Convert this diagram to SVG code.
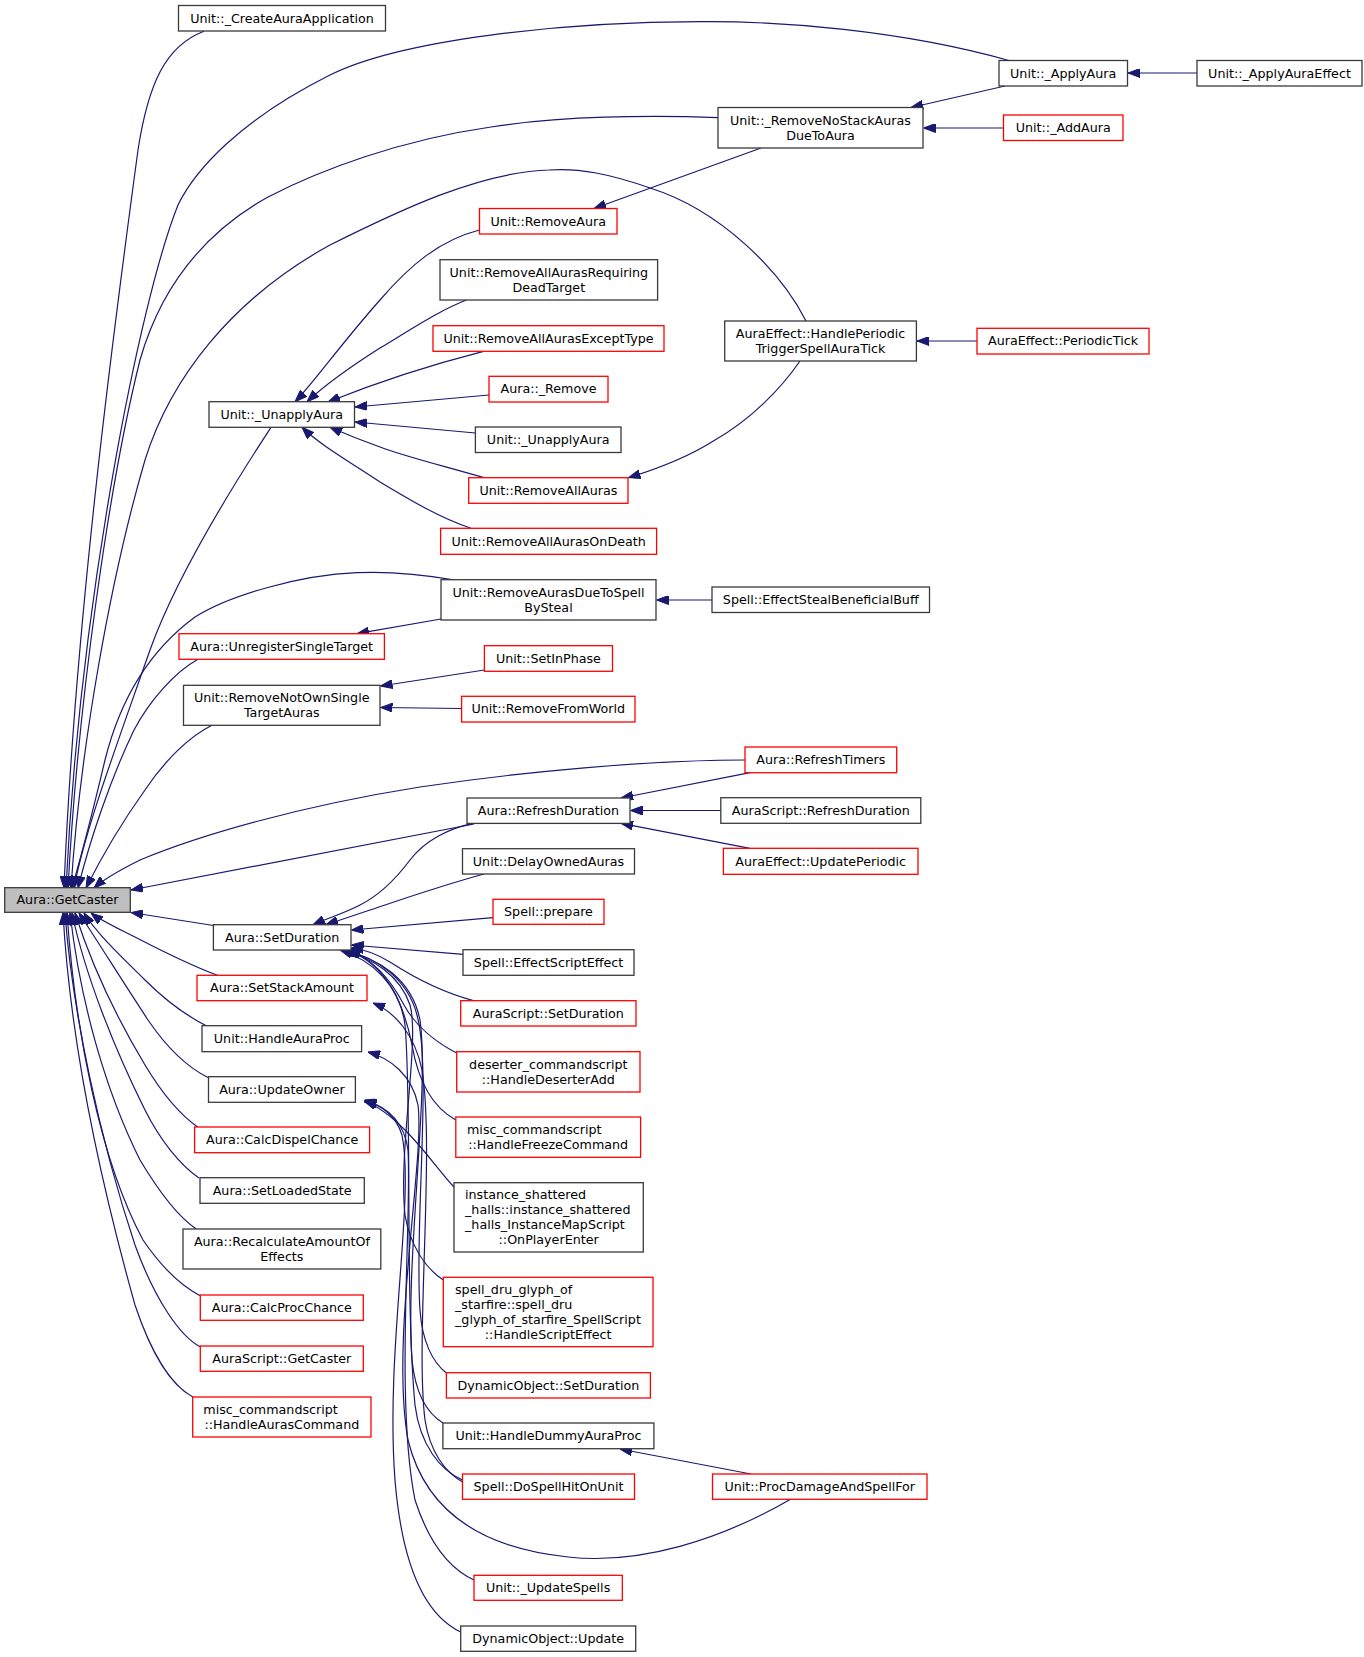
<svg xmlns="http://www.w3.org/2000/svg" width="1364" height="1657" viewBox="0 0 1364 1657">
<defs>
<style>
.b{fill:#fff;stroke:#3a3a3a;stroke-width:1.3}
.r{fill:#fff;stroke:#ff0000;stroke-width:1.3}
.g{fill:#bfbfbf;stroke:#3a3a3a;stroke-width:1.3}
text{font-family:"DejaVu Sans","Liberation Sans",sans-serif;font-size:12.7px;fill:#000}
.m{text-anchor:middle}
.s{text-anchor:start}
.e path{fill:none;stroke:#191970;stroke-width:1.2;marker-end:url(#ah)}
</style>
<marker id="ah" viewBox="0 0 12 9" refX="12" refY="4.5" markerWidth="12" markerHeight="9" markerUnits="userSpaceOnUse" orient="auto">
<path d="M0,0 L12,4.5 L0,9 z" fill="#191970" stroke="#191970" stroke-width="1"/>
</marker>
</defs>
<rect width="1364" height="1657" fill="#fff"/>
<g id="edges" class="e">
<path d="M204,31.3 C165,46 148,85 138,150 C115,320 75,620 64,888"/>
<path d="M1009,60.5 C900,30 780,21 700,21.7 C560,22 400,40 330,75 C240,120 195,170 178,205 C140,300 80,600 66,888"/>
<path d="M718,117.7 C650,115 560,116 491,127 C400,140 320,170 268,197 C200,235 160,290 140,360 C110,480 78,700 68,888"/>
<path d="M806,321 C780,270 720,210 650,188 C610,174 580,168 549,170 C480,172 400,210 330,245 C230,300 170,380 145,460 C110,580 80,750 71,888"/>
<path d="M271,427.3 C230,490 175,580 150,650 C115,750 85,830 74,888"/>
<path d="M455,580 C420,574 390,571 357,572.7 C300,575 230,595 195,617 C150,650 120,700 105,760 C92,815 80,860 72,888"/>
<path d="M198,659.3 C175,672 150,700 134,730 C110,780 90,840 78,888"/>
<path d="M212,725.3 C190,736 165,760 145,790 C120,825 100,860 86,888"/>
<path d="M745,760 C650,760 520,772 420,787 C300,806 200,835 140,860 C120,870 105,878 94,888"/>
<path d="M474,824 L131,890"/>
<path d="M213.4,925.5 L131,912.5"/>
<path d="M217.4,975.3 C190,965 160,950 135,937 C115,927 100,920 91,913"/>
<path d="M206.7,1026 C185,1015 165,1000 145,980 C120,955 98,935 84,913"/>
<path d="M208,1077.5 C185,1066 165,1045 148,1020 C125,985 100,945 79,913"/>
<path d="M199,1128 C180,1115 160,1090 145,1065 C115,1015 90,960 75,913"/>
<path d="M199,1178 C180,1165 160,1140 145,1110 C115,1050 85,975 72,913"/>
<path d="M196.4,1229 C175,1215 155,1185 140,1160 C105,1090 80,1000 70,913"/>
<path d="M200,1295.7 C180,1285 160,1265 143,1240 C100,1160 75,1030 67,913"/>
<path d="M200,1346.7 C180,1336 155,1300 135,1245 C100,1140 72,1010 65,913"/>
<path d="M193,1397 C170,1385 150,1350 135,1305 C100,1180 70,1040 63,913"/>
<path d="M479.5,230 C440,240 410,265 380,300 C340,345 312,385 295,401.7"/>
<path d="M466.5,300 C440,310 410,330 380,348 C350,367 325,385 307,401.7"/>
<path d="M483.5,351.3 C430,365 370,385 328,402"/>
<path d="M489,395 L355,407"/>
<path d="M475.4,433 L355,422"/>
<path d="M484,477.7 C440,465 400,455 380,447 C360,440 343,433 330,427.3"/>
<path d="M471,528.3 C440,518 410,500 380,482 C350,462 320,445 302,427.3"/>
<path d="M1197,73 L1128,73"/>
<path d="M1005,86 L911,107.5"/>
<path d="M1003.5,128 L923.5,128"/>
<path d="M761,148 L594,208.5"/>
<path d="M977,341 L917,341"/>
<path d="M800,361 C780,390 750,420 715,440 C690,456 660,468 628.5,477.7"/>
<path d="M712,600 L656.5,600"/>
<path d="M441,619 L357,633.7"/>
<path d="M484.4,670 L380.5,686"/>
<path d="M461.6,708.5 L380.5,707.5"/>
<path d="M750,772.7 L621,798"/>
<path d="M720.8,810.5 L630.5,810.5"/>
<path d="M750,848.3 L621,823.4"/>
<path d="M473,823.3 C450,828 425,840 410,860 C395,880 380,895 360,905 C345,913 328,918 313,924.7"/>
<path d="M484,874 C440,886 400,900 370,910 C355,915 340,920 326,924.7"/>
<path d="M493,917.7 L351.5,930"/>
<path d="M463,954.3 L351.5,945"/>
<path d="M475,1001 C440,992 410,975 390,962 C375,953 362,949 351.5,948"/>
<path d="M456.7,1053 C435,1042 415,1025 404,1005 C392,982 375,960 349,950"/>
<path d="M455.8,1120 C432,1107 418,1080 412,1045 C404,1005 388,965 347,950"/>
<path d="M454,1187 C440,1172 425,1150 405,1130 C390,1115 378,1106 364,1101"/>
<path d="M443.3,1280 C425,1268 410,1245 405,1215 C398,1150 420,1040 410,1005 C400,975 372,958 343,950"/>
<path d="M446.4,1373 C432,1362 422,1340 420,1310 C414,1230 432,1070 417,1015 C408,980 378,958 345,950"/>
<path d="M443,1423 C425,1412 415,1390 412,1360 C405,1260 430,1090 420,1020 C412,980 380,958 342,950"/>
<path d="M462.5,1480 C440,1470 420,1445 415,1405 C405,1300 412,1100 405,1025 C400,985 372,960 340,950"/>
<path d="M462.5,1482 C445,1472 430,1452 425,1420 C415,1340 435,1150 422,1070 C415,1035 395,1012 373,1003"/>
<path d="M791,1499 C720,1540 640,1565 568,1557 C480,1548 425,1510 408,1440 C390,1340 425,1160 418,1105 C412,1075 390,1058 368,1052"/>
<path d="M474,1580 C448,1568 428,1540 415,1500 C395,1400 412,1220 408,1150 C404,1120 385,1106 364.5,1100"/>
<path d="M460.7,1632 C425,1615 402,1565 395,1480 C385,1350 415,1200 402,1135 C396,1115 380,1104 364.5,1102"/>
<path d="M751,1474 L620,1449"/>
</g>
<g id="n1"><rect class="b" x="178.5" y="5.5" width="207" height="25.5"/><text class="m" x="282" y="22.5">Unit::_CreateAuraApplication</text></g>
<g id="n2"><rect class="b" x="999" y="60.5" width="128.5" height="25.5"/><text class="m" x="1063.2" y="77.5">Unit::_ApplyAura</text></g>
<g id="n3"><rect class="b" x="1197" y="60.5" width="165" height="25.5"/><text class="m" x="1279.5" y="77.5">Unit::_ApplyAuraEffect</text></g>
<g id="n4"><rect class="b" x="718" y="107.5" width="205" height="40.5"/><text class="m" x="820.5" y="124.5">Unit::_RemoveNoStackAuras</text><text class="m" x="820.5" y="139.5">DueToAura</text></g>
<g id="n5"><rect class="r" x="1003.5" y="115" width="119.5" height="25.5"/><text class="m" x="1063.25" y="132">Unit::_AddAura</text></g>
<g id="n6"><rect class="r" x="479.5" y="208.5" width="137.5" height="25.5"/><text class="m" x="548.25" y="225.5">Unit::RemoveAura</text></g>
<g id="n7"><rect class="b" x="440" y="259.7" width="217.6" height="40.3"/><text class="m" x="548.8" y="276.6">Unit::RemoveAllAurasRequiring</text><text class="m" x="548.8" y="291.6">DeadTarget</text></g>
<g id="n8"><rect class="r" x="433" y="325.7" width="231" height="25.6"/><text class="m" x="548.5" y="342.8">Unit::RemoveAllAurasExceptType</text></g>
<g id="n9"><rect class="r" x="489" y="376.3" width="119" height="25.7"/><text class="m" x="548.5" y="393.4">Aura::_Remove</text></g>
<g id="n10"><rect class="b" x="209" y="401.7" width="145.5" height="25.6"/><text class="m" x="281.75" y="418.8">Unit::_UnapplyAura</text></g>
<g id="n11"><rect class="b" x="475.4" y="427" width="145.6" height="25.5"/><text class="m" x="548.2" y="444">Unit::_UnapplyAura</text></g>
<g id="n12"><rect class="b" x="724.7" y="321" width="191.7" height="40"/><text class="m" x="820.55" y="337.8">AuraEffect::HandlePeriodic</text><text class="m" x="820.55" y="352.8">TriggerSpellAuraTick</text></g>
<g id="n13"><rect class="r" x="977" y="328.3" width="172" height="25.7"/><text class="m" x="1063" y="345.4">AuraEffect::PeriodicTick</text></g>
<g id="n14"><rect class="r" x="468.7" y="477.7" width="159.3" height="25.6"/><text class="m" x="548.35" y="494.8">Unit::RemoveAllAuras</text></g>
<g id="n15"><rect class="r" x="440.6" y="528.3" width="216" height="26"/><text class="m" x="548.6" y="545.6">Unit::RemoveAllAurasOnDeath</text></g>
<g id="n16"><rect class="b" x="441" y="579.7" width="215" height="40.3"/><text class="m" x="548.5" y="596.6">Unit::RemoveAurasDueToSpell</text><text class="m" x="548.5" y="611.6">BySteal</text></g>
<g id="n17"><rect class="b" x="712" y="587" width="217.5" height="25.5"/><text class="m" x="820.75" y="604">Spell::EffectStealBeneficialBuff</text></g>
<g id="n18"><rect class="r" x="179" y="633.7" width="205.4" height="25.6"/><text class="m" x="281.7" y="650.8">Aura::UnregisterSingleTarget</text></g>
<g id="n19"><rect class="r" x="484.4" y="645.7" width="128.1" height="25.6"/><text class="m" x="548.45" y="662.8">Unit::SetInPhase</text></g>
<g id="n20"><rect class="b" x="183.5" y="685.3" width="196.5" height="40"/><text class="m" x="281.75" y="702.1">Unit::RemoveNotOwnSingle</text><text class="m" x="281.75" y="717.1">TargetAuras</text></g>
<g id="n21"><rect class="r" x="461.6" y="696.3" width="173.4" height="25.7"/><text class="m" x="548.3" y="713.4">Unit::RemoveFromWorld</text></g>
<g id="n22"><rect class="r" x="745" y="747" width="151.7" height="25.7"/><text class="m" x="820.85" y="764.1">Aura::RefreshTimers</text></g>
<g id="n23"><rect class="b" x="467" y="798" width="163" height="25.4"/><text class="m" x="548.5" y="815">Aura::RefreshDuration</text></g>
<g id="n24"><rect class="b" x="720.8" y="797.7" width="200" height="25.6"/><text class="m" x="820.8" y="814.8">AuraScript::RefreshDuration</text></g>
<g id="n25"><rect class="b" x="462.5" y="848.7" width="172" height="25.3"/><text class="m" x="548.5" y="865.6">Unit::DelayOwnedAuras</text></g>
<g id="n26"><rect class="r" x="723.4" y="848.3" width="194.6" height="26"/><text class="m" x="820.7" y="865.6">AuraEffect::UpdatePeriodic</text></g>
<g id="n27"><rect class="g" x="4.7" y="887.7" width="125.6" height="24.6"/><text class="m" x="67.5" y="904.3">Aura::GetCaster</text></g>
<g id="n28"><rect class="r" x="493" y="899.3" width="111" height="25"/><text class="m" x="548.5" y="916.1">Spell::prepare</text></g>
<g id="n29"><rect class="b" x="213.4" y="924.7" width="137.6" height="25.3"/><text class="m" x="282.2" y="941.6">Aura::SetDuration</text></g>
<g id="n30"><rect class="b" x="463" y="949.7" width="171" height="25.6"/><text class="m" x="548.5" y="966.8">Spell::EffectScriptEffect</text></g>
<g id="n31"><rect class="r" x="197" y="975.3" width="170" height="25.4"/><text class="m" x="282" y="992.3">Aura::SetStackAmount</text></g>
<g id="n32"><rect class="r" x="460.7" y="1000.7" width="175.3" height="25.3"/><text class="m" x="548.35" y="1017.6">AuraScript::SetDuration</text></g>
<g id="n33"><rect class="b" x="202" y="1025.7" width="159.6" height="26"/><text class="m" x="281.8" y="1043">Unit::HandleAuraProc</text></g>
<g id="n34"><rect class="r" x="456.7" y="1051.7" width="183.3" height="40.3"/><text class="m" x="548.35" y="1068.6">deserter_commandscript</text><text class="m" x="548.35" y="1083.6">::HandleDeserterAdd</text></g>
<g id="n35"><rect class="b" x="208.5" y="1076.7" width="146.9" height="25.6"/><text class="m" x="281.95" y="1093.8">Aura::UpdateOwner</text></g>
<g id="n36"><rect class="r" x="455.8" y="1117" width="184.8" height="40.3"/><text class="s" x="467" y="1134">misc_commandscript</text><text class="m" x="548.2" y="1149">::HandleFreezeCommand</text></g>
<g id="n37"><rect class="r" x="194.6" y="1127" width="175" height="25.7"/><text class="m" x="282.1" y="1144.1">Aura::CalcDispelChance</text></g>
<g id="n38"><rect class="b" x="200" y="1177.7" width="164.3" height="25.6"/><text class="m" x="282.15" y="1194.8">Aura::SetLoadedState</text></g>
<g id="n39"><rect class="b" x="454" y="1182.7" width="189.3" height="69.3"/><text class="s" x="465" y="1199.1">instance_shattered</text><text class="s" x="465" y="1214.1">_halls::instance_shattered</text><text class="s" x="465" y="1229.1">_halls_InstanceMapScript</text><text class="m" x="548.65" y="1244.1">::OnPlayerEnter</text></g>
<g id="n40"><rect class="b" x="183" y="1229" width="197.8" height="40"/><text class="m" x="281.9" y="1245.8">Aura::RecalculateAmountOf</text><text class="m" x="281.9" y="1260.8">Effects</text></g>
<g id="n41"><rect class="r" x="443.3" y="1277.3" width="209.7" height="69.4"/><text class="s" x="455" y="1293.8">spell_dru_glyph_of</text><text class="s" x="455" y="1308.8">_starfire::spell_dru</text><text class="s" x="455" y="1323.8">_glyph_of_starfire_SpellScript</text><text class="m" x="548.15" y="1338.8">::HandleScriptEffect</text></g>
<g id="n42"><rect class="r" x="200.3" y="1295" width="163" height="25.3"/><text class="m" x="281.8" y="1311.9">Aura::CalcProcChance</text></g>
<g id="n43"><rect class="r" x="200.3" y="1346" width="163" height="25.3"/><text class="m" x="281.8" y="1362.9">AuraScript::GetCaster</text></g>
<g id="n44"><rect class="r" x="446.4" y="1372.7" width="204" height="25.3"/><text class="m" x="548.4" y="1389.6">DynamicObject::SetDuration</text></g>
<g id="n45"><rect class="r" x="192.7" y="1397" width="178.3" height="40"/><text class="s" x="203.3" y="1413.8">misc_commandscript</text><text class="m" x="281.85" y="1428.8">::HandleAurasCommand</text></g>
<g id="n46"><rect class="b" x="442.9" y="1423" width="211" height="25.7"/><text class="m" x="548.4" y="1440.1">Unit::HandleDummyAuraProc</text></g>
<g id="n47"><rect class="r" x="462.5" y="1474" width="172" height="25.3"/><text class="m" x="548.5" y="1490.9">Spell::DoSpellHitOnUnit</text></g>
<g id="n48"><rect class="r" x="712.5" y="1474" width="214.5" height="25.3"/><text class="m" x="819.75" y="1490.9">Unit::ProcDamageAndSpellFor</text></g>
<g id="n49"><rect class="r" x="474" y="1575.3" width="148.3" height="25"/><text class="m" x="548.15" y="1592.1">Unit::_UpdateSpells</text></g>
<g id="n50"><rect class="b" x="460.7" y="1626" width="175" height="25.3"/><text class="m" x="548.2" y="1642.9">DynamicObject::Update</text></g>
</svg>
